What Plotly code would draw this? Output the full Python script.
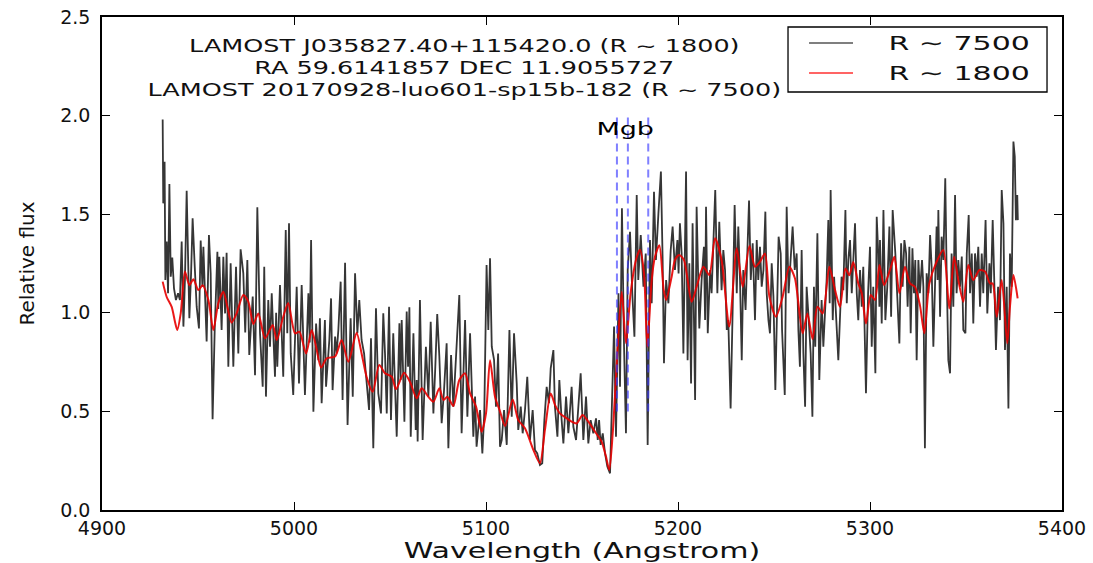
import plotly.graph_objects as go

# ---------------- data ----------------
black_wave = [
 4931.6,4931.9,4932.6,4933.0,4933.7,4934.4,4935.1,4935.8,4936.6,4937.5,4938.5,4939.6,4940.6,4941.5,4942.4,4943.2,
 4944.1,4945.5,4946.4,4947.2,4948.3,4949.3,4950.5,4951.4,4952.3,4952.8,4954.5,4955.7,4956.6,4957.6,4958.7,4960.1,
 4960.6,4961.1,4962.3,4963.2,4964.1,4964.9,4965.8,4967.0,4968.4,4969.8,4971.0,4972.2,4973.6,4974.6,4975.7,4976.7,
 4978.5,4979.7,4980.9,4982.3,4983.7,4984.5,4985.4,4986.6,4987.5,4988.4,4990.1,4990.7,4991.3,4992.7,4994.4,4995.7,
 4996.5,4997.4,4998.3,4999.6,5001.4,5002.6,5004.0,5005.7,5007.5,5008.2,5008.9,5010.1,5011.5,5012.7,
 5013.5,5014.4,5016.1,5016.7,5018.4,5019.3,5020.1,5021.4,5022.2,5023.1,5024.3,5025.3,5026.6,5027.9,5029.5,5030.6,
 5031.8,5033.0,5034.0,5035.2,5036.5,5037.8,5039.1,5040.1,5041.3,5042.7,5043.9,5045.3,5046.5,5047.4,5048.3,5049.5,
 5050.5,5051.7,5053.5,5054.9,5055.5,5056.1,5057.5,5058.7,5059.4,5060.1,5060.8,5062.2,5063.4,5063.9,5064.4,5065.6,
 5067.0,5068.7,5070.0,5071.2,5072.6,5073.6,5074.6,5075.7,5076.9,5078.1,5079.5,5080.4,5081.8,5083.0,5084.4,5086.1,
 5087.3,5089.1,5090.3,5091.7,5093.4,5094.3,5095.1,5096.9,5098.1,5099.1,5100.3,5101.2,5102.1,5103.0,5104.2,5105.2,
 5106.3,5107.3,
 5108.2,5109.4,5110.8,5112.2,5113.4,5114.6,5116.0,5116.8,5118.1,5119.1,5120.3,5121.5,5122.9,5124.3,5125.5,5126.7,
 5128.1,5129.3,5130.4,5131.6,5132.8,5133.7,5135.1,5135.9,5137.2,5138.2,5139.4,5140.3,5141.7,5142.9,5144.6,5145.5,
 5146.9,5148.1,5149.3,5150.7,5152.1,5153.3,5154.5,5155.9,5157.3,5158.2,5158.9,5159.7,5160.8,5162.0,5163.2,5164.6,
 5165.8,5166.7,5167.7,5169.0,5169.8,5170.8,5171.9,5172.9,5173.8,5175.0,5176.2,5177.3,5178.5,5179.3,5180.6,5182.0,
 5183.2,5184.2,5185.4,5186.3,5187.5,5188.5,5189.8,5191.1,5192.0,5192.7,5193.8,5195.0,5196.2,5197.2,5198.4,5199.7,
 5200.3,
 5201.0,5201.9,5202.8,5204.2,5205.0,5205.9,5206.8,5207.6,5208.9,5209.7,5211.1,5212.3,5213.5,5214.1,5214.6,5215.5,
 5216.7,5217.5,5218.4,5219.4,5220.5,5221.5,5222.7,5223.6,5224.5,5225.4,5226.2,5227.4,5228.5,5229.5,5230.6,5231.4,
 5232.3,5233.2,5234.0,5235.2,5236.1,5237.0,5237.9,5238.9,5240.1,5241.0,5241.8,5242.7,5243.6,5244.5,5245.5,5246.2,
 5247.1,5247.9,5248.8,5249.7,5250.7,5251.4,5252.4,5253.5,5254.2,5255.6,5256.6,5257.6,5258.7,5259.7,5260.8,5261.8,
 5262.7,5263.5,5264.4,5265.3,5266.2,5267.0,5268.1,5269.1,5270.0,5270.8,5271.5,5272.6,5273.6,5274.8,5275.7,5276.6,
 5277.4,5278.3,5279.0,5279.5,5280.6,5281.3,5282.3,5283.5,
 5285.2,5286.1,5287.2,5287.9,5288.7,5289.6,5290.5,5291.3,5292.2,5293.1,5293.9,5294.8,5295.7,5296.5,5297.4,5297.9,
 5299.0,5300.0,5300.9,5301.7,5302.8,5303.5,5304.3,5304.9,5305.2,5306.1,5307.0,5308.0,5309.0,5310.1,5311.0,5311.8,
 5313.2,5314.2,5315.3,5316.2,5317.0,5317.9,5318.8,5319.6,5320.5,5321.2,5322.1,5322.9,5323.6,5324.3,5325.2,5326.0,
 5327.1,5327.8,5328.6,5329.5,5330.4,5331.3,5332.1,5333.0,5333.9,5334.7,5335.2,5335.6,5336.5,5337.3,5338.2,5339.2,
 5339.9,5340.8,5341.7,5342.5,5343.4,5344.3,5345.1,5346.0,5346.9,5347.8,5348.6,5349.7,5350.4,5351.4,5352.1,5353.0,
 5353.8,5354.7,5355.6,5356.4,5357.3,5358.2,5359.0,5360.2,5361.1,5362.2,5362.9,5363.9,5364.8,5365.6,5366.7,5367.7,
 5368.6,5369.5,5370.3,5371.2,5372.1,5372.9,5373.8,5374.7,5375.4,5376.0,5376.7,5377.0,
]
black_flux = [
 1.98,1.555,1.766,1.166,1.361,1.099,1.653,1.183,1.28,1.124,1.065,1.099,1.065,1.361,0.93,1.166,
 1.619,0.972,1.2,1.479,1.234,1.031,0.921,1.366,1.132,1.335,0.854,1.394,1.2,0.46,0.913,1.31,
 1.02,1.284,0.913,1.284,0.997,1.305,0.727,1.251,0.727,1.234,0.794,1.322,1.2,0.9,1.268,0.786,
 1.082,0.684,1.535,0.896,0.625,1.234,0.575,1.065,0.828,1.099,0.676,1.0,0.727,1.141,0.676,1.42,
 0.896,1.454,0.794,0.583,1.132,0.642,1.141,0.583,1.099,0.85,1.369,0.498,0.946,0.76,
 0.972,0.541,0.963,0.625,0.862,1.073,0.608,0.879,0.794,0.913,1.158,0.558,1.254,0.431,0.972,0.575,
 1.2,0.896,1.065,0.862,0.794,0.659,0.507,0.871,0.313,1.023,0.592,0.49,0.997,0.794,0.49,1.031,
 0.456,0.896,0.372,0.947,0.659,0.963,0.448,1.006,0.727,1.028,0.372,0.896,0.406,0.659,0.347,1.065,
 0.355,0.828,0.575,0.955,0.49,0.727,0.994,0.778,0.44,0.6,0.845,0.313,0.786,0.524,0.794,1.09,
 0.389,0.963,0.473,0.896,0.372,0.575,0.321,0.507,0.287,0.49,1.242,0.913,1.276,0.828,0.761,0.524,
 0.794,0.321,
 0.355,0.507,0.33,0.913,0.473,0.896,0.642,0.406,0.524,0.389,0.507,0.676,0.355,0.507,0.304,0.287,
 0.228,0.237,0.456,0.625,0.541,0.718,0.811,0.524,0.372,0.659,0.456,0.338,0.575,0.389,0.625,0.422,
 0.355,0.541,0.693,0.355,0.575,0.338,0.456,0.389,0.465,0.355,0.456,0.33,0.389,0.287,0.22,0.186,
 0.625,0.93,0.372,1.099,0.625,1.53,0.828,0.389,1.217,1.411,1.099,0.879,1.597,1.166,1.394,1.132,
 1.301,0.33,1.369,1.048,1.614,1.268,1.504,1.716,1.268,0.744,1.166,1.048,1.318,1.437,1.217,1.369,
 1.2,
 1.454,1.301,0.794,1.716,0.76,1.251,0.642,1.454,0.558,1.538,0.921,1.166,1.335,0.963,1.538,0.896,
 1.217,1.099,1.335,1.623,1.099,1.462,1.115,1.318,1.217,0.913,0.963,0.515,1.031,1.547,1.099,1.437,
 1.166,0.76,1.217,1.014,1.301,1.569,1.166,1.352,0.963,1.369,1.166,1.335,1.132,1.217,1.513,1.099,
 0.963,0.896,1.251,1.082,0.608,0.963,1.386,1.301,0.913,0.583,1.538,1.099,1.268,1.437,1.217,1.301,
 0.913,0.727,1.318,0.794,0.524,1.132,0.963,0.794,0.473,1.132,0.828,1.403,0.659,1.065,0.828,1.031,
 1.166,1.47,1.048,1.623,0.963,1.183,0.963,0.76,
 1.183,1.115,1.521,1.048,1.268,1.369,1.099,1.268,1.454,1.099,0.963,1.217,1.031,1.234,0.811,0.592,
 1.099,1.335,0.828,1.132,0.693,1.487,1.301,1.031,1.369,0.946,1.521,0.963,1.132,1.437,0.98,1.521,
 1.301,1.099,0.845,1.352,1.132,1.369,1.301,1.031,1.335,0.896,1.327,1.099,1.268,0.76,1.268,1.099,
 1.268,1.132,0.313,1.2,1.099,1.394,1.234,0.828,1.217,1.437,1.166,1.521,0.98,1.386,1.268,1.682,
 1.217,0.76,0.693,1.301,1.031,1.597,1.099,1.268,1.132,1.285,0.913,0.896,1.301,1.496,1.099,1.301,
 0.946,1.301,1.183,1.335,1.031,1.301,1.099,1.47,0.997,1.251,1.099,1.47,1.132,0.811,1.132,0.963,
 1.623,1.454,0.811,1.132,0.515,1.301,1.132,1.868,1.792,1.47,1.597,1.47,
]

red_wave = [
 4931.6,4933.7,4936.3,4938.0,4939.2,4941.0,4943.2,4945.5,4947.6,4950.2,4952.4,4955.4,4958.0,4960.6,4963.2,4965.3,
 4967.5,4970.1,4973.6,4976.2,4978.8,4981.4,4984.9,4988.9,4991.0,4994.4,4997.0,5000.5,5002.8,5006.3,5009.2,5011.5,
 5014.1,5017.0,5021.4,5024.8,5028.3,5032.6,5035.2,5037.8,5041.0,5044.4,5047.4,5050.9,5053.1,5057.3,5060.4,5063.9,
 5066.5,5070.0,5072.6,5075.7,5077.8,5079.9,5083.0,5086.1,5089.1,5091.7,5094.8,5097.7,5100.0,5102.1,5104.7,5107.3,
 5109.9,5113.9,5116.8,5120.3,5124.7,5128.1,5130.7,5133.7,5136.0,5138.5,5142.0,5144.6,5147.2,5150.3,5153.3,5156.8,
 5160.2,5162.5,5164.2,5166.0,5168.1,5170.7,5172.9,5175.3,5178.1,5180.2,5182.3,5184.0,5186.3,5188.0,5190.3,5192.5,
 5193.8,5196.7,5198.4,5200.6,5203.1,5207.1,5209.7,5213.2,5216.3,5219.3,5222.7,5226.7,5230.6,5233.7,5237.2,5240.1,
 5242.7,5245.3,5247.6,5251.0,5254.5,5258.0,5260.9,5264.9,5267.4,5270.1,5272.6,5275.4,5278.8,5281.8,5284.4,5287.2,
 5289.2,5291.3,5293.9,5295.7,5297.9,5300.4,5302.6,5304.9,5307.3,5310.4,5312.7,5315.3,5318.2,5320.8,5323.4,5326.0,
 5328.3,5330.9,5334.7,5338.2,5341.3,5343.8,5346.0,5348.6,5351.2,5353.8,5357.0,5359.9,5362.5,5363.9,5366.0,5368.6,
 5371.5,5372.9,5374.7,5376.9,
]
red_flux = [
 1.158,1.08,1.03,0.955,0.913,0.997,1.21,1.14,1.17,1.115,1.14,1.065,0.913,1.05,1.107,1.03,
 0.95,0.997,1.09,1.057,0.943,0.997,0.87,0.938,0.862,0.98,1.05,0.896,0.904,0.794,0.913,0.828,
 0.722,0.769,0.778,0.862,0.752,0.899,0.794,0.676,0.6,0.735,0.693,0.676,0.612,0.696,0.65,0.566,
 0.617,0.574,0.549,0.617,0.558,0.574,0.527,0.659,0.693,0.591,0.524,0.397,0.49,0.76,0.574,0.5,
 0.426,0.56,0.456,0.414,0.304,0.237,0.406,0.591,0.532,0.49,0.465,0.448,0.439,0.482,0.448,0.397,
 0.347,0.271,0.203,0.389,0.744,1.107,0.845,1.099,1.268,1.32,1.2,0.828,1.166,1.284,1.343,1.12,
 1.065,1.183,1.268,1.293,1.268,1.056,1.132,1.234,1.192,1.378,1.268,0.93,1.327,1.132,1.339,1.234,
 1.259,1.301,1.082,0.98,1.082,1.234,1.175,0.896,0.997,0.866,1.031,0.997,1.234,1.115,1.03,1.225,
 1.19,1.257,1.149,1.099,0.946,1.09,1.065,1.242,1.14,1.217,1.284,1.099,1.234,1.149,1.132,1.039,
 0.896,1.149,1.259,1.318,1.022,1.284,1.166,1.056,1.242,1.166,1.217,1.209,1.149,1.149,0.98,1.166,
 0.845,1.031,1.192,1.073,
]

mgb_waves = [5168.2, 5173.9, 5184.5]
mgb_span = [0.5, 2.0]

x_ticks = [4900, 5000, 5100, 5200, 5300, 5400]
y_ticks = [0.0, 0.5, 1.0, 1.5, 2.0, 2.5]
y_ticklabels = ["0.0", "0.5", "1.0", "1.5", "2.0", "2.5"]

series_names = ["R ∼ 7500", "R ∼ 1800"]
title_lines = [
    "LAMOST J035827.40+115420.0 (R ∼ 1800)",
    "RA 59.6141857 DEC 11.9055727",
    "LAMOST 20170928-luo601-sp15b-182 (R ∼ 7500)",
]

# ---------------- figure ----------------
FONT = "DejaVu Sans"
BLACK = "#363636"
RED = "rgba(232,0,0,0.9)"
fig = go.Figure()
fig.add_trace(go.Scatter(
    x=black_wave, y=black_flux, mode="lines", name=series_names[0], showlegend=False,
    line=dict(color=BLACK, width=1.8),
))
fig.add_trace(go.Scatter(
    x=red_wave, y=red_flux, mode="lines", name=series_names[1], showlegend=False,
    line=dict(color=RED, width=2, shape="spline", smoothing=0.7),
))

for xv in mgb_waves:
    fig.add_shape(type="line", xref="x", yref="y", x0=xv, x1=xv,
                  y0=mgb_span[0], y1=mgb_span[1], layer="above",
                  line=dict(color="rgba(60,60,255,0.65)", width=2, dash="8px,5px"))

fig.add_annotation(x=5172.4, y=1.935, xref="x", yref="y", text="Mgb", showarrow=False,
                   font=dict(family=FONT, size=18, color="black"))

fig.add_annotation(x=0.378, y=0.8966, xref="paper", yref="paper",
                   text="<br>".join(title_lines), showarrow=False,
                   xanchor="center", yanchor="middle", align="center",
                   font=dict(family=FONT, size=17, color="#111111"))

# legend box drawn in the matplotlib style (frame, short line samples, labels)
leg_box = dict(x0=0.7146, x1=0.9844, y0=0.8479, y1=0.9797)
leg_rows = [0.9473, 0.8864]
leg_line_x = [0.7365, 0.7823]
leg_text_x = 0.8924
leg_colors = ["#555555", "#ff3030"]
fig.add_shape(type="rect", xref="paper", yref="paper", layer="above",
              fillcolor="white", line=dict(color="black", width=1.3), **leg_box)
for yy, col, nm in zip(leg_rows, leg_colors, series_names):
    fig.add_shape(type="line", xref="paper", yref="paper", layer="above",
                  x0=leg_line_x[0], x1=leg_line_x[1], y0=yy, y1=yy,
                  line=dict(color=col, width=1.4))
    fig.add_annotation(x=leg_text_x, y=yy, xref="paper", yref="paper", text=nm,
                       showarrow=False, xanchor="center", yanchor="middle",
                       font=dict(family=FONT, size=20, color="#111111"))

axis_common = dict(showline=True, linecolor="black", linewidth=1.5, mirror="ticks",
                   ticks="inside", ticklen=8, tickwidth=1.2, tickcolor="black",
                   showgrid=False, zeroline=False, automargin=False)

fig.update_xaxes(range=[4900, 5400], tickvals=x_ticks,
                 tickfont=dict(family=FONT, size=19, color="#111111"),
                 title=dict(text="Wavelength (Angstrom)", standoff=2,
                            font=dict(family=FONT, size=21, color="#111111")),
                 **axis_common)
fig.update_yaxes(range=[0, 2.5], tickvals=y_ticks, ticktext=y_ticklabels,
                 tickfont=dict(family=FONT, size=19, color="#111111"),
                 ticklabelstandoff=6,
                 title=dict(text="Relative flux", standoff=20,
                            font=dict(family=FONT, size=20, color="#111111")),
                 **axis_common)

fig.update_layout(
    template="none",
    width=1093, height=563, autosize=False,
    margin=dict(l=102, r=31, t=17, b=53, pad=0),
    plot_bgcolor="white", paper_bgcolor="white",
    font=dict(family=FONT, color="black"),
    showlegend=False,
)

# the reference image is horizontally stretched; widen the free texts the same way
stretch_css = """
var st = document.createElement('style');
st.textContent = 'body{margin:0;}'
  + '.annotation-text{transform-box:fill-box;transform-origin:center;transform:scaleX(1.5);}'
  + '.xtitle{transform-box:fill-box;transform-origin:center;transform:scaleX(1.43);}';
document.head.appendChild(st);
"""

fig.write_html("out.html", post_script=stretch_css, config={"displayModeBar": False})
